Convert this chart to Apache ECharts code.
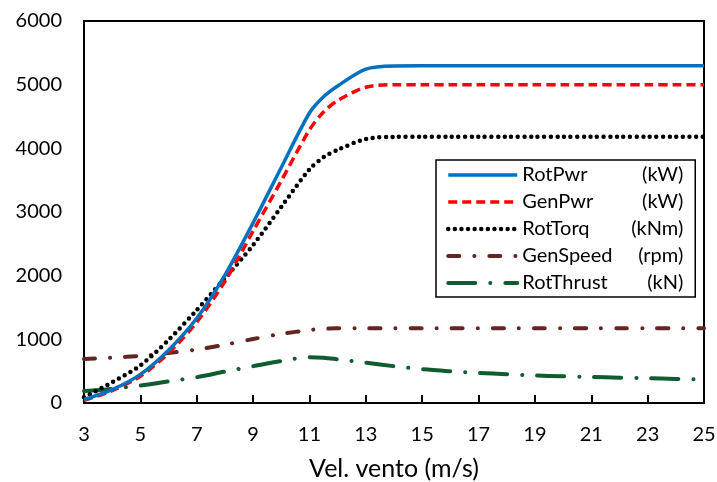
<!DOCTYPE html>
<html>
<head>
<meta charset="utf-8">
<script src="https://cdn.jsdelivr.net/npm/echarts@6/dist/echarts.min.js"></script>
<style>
html,body{margin:0;padding:0;background:#fff;}
#chart{width:717px;height:482px;}
</style>
</head>
<body>
<div id="chart"></div>
<script>
// Wind speed (m/s)
const wind = [3,4,5,6,7,8,9,10,11,11.5,12,13,14,15,16,17,18,19,20,21,22,23,24,25];
const seriesNames = ['RotPwr','GenPwr','RotTorq','GenSpeed','RotThrust'];
const seriesUnits = ['(kW)','(kW)','(kNm)','(rpm)','(kN)'];
const rotPwr    = [55,210,450,830,1330,2010,2830,3700,4555,4810,4980,5245,5295,5297,5297,5297,5297,5297,5297,5297,5297,5297,5297,5297];
const genPwr    = [40,195,420,785,1270,1910,2700,3490,4290,4570,4750,4960,5000,5000,5000,5000,5000,5000,5000,5000,5000,5000,5000,5000];
const rotTorq   = [90,325,590,990,1460,1960,2480,3080,3670,3860,3975,4145,4180,4180,4180,4180,4180,4180,4180,4180,4180,4180,4180,4180];
const genSpeed  = [691,712,740,785,840,915,1005,1085,1146,1165,1173,1174,1174,1174,1174,1174,1174,1174,1174,1174,1174,1174,1174,1174];
const rotThrust = [190,222,275,340,405,494,578,660,720,712,687,633,578,530,498,472,452,432,420,408,398,389,378,370];
const xTicks = {min:3, max:25, interval:2};
const yTicks = {min:0, max:6000, interval:1000};

const FONT = 'Lato';
const pair = arr => wind.map((w,i)=>[w, arr[i]]);
const styles = [
  {color:'#0070C0', width:3.5, type:'solid', cap:'butt'},
  {color:'#FF0000', width:3.5, type:[9,5], cap:'butt'},
  {color:'#000000', width:4.5, type:[0,6.6], cap:'round'},
  {color:'#632523', width:4, type:[11,15,0.1,15], cap:'round'},
  {color:'#0E5C2F', width:4, type:[27,15,0.1,15], cap:'round'}
];
const datas = [rotPwr, genPwr, rotTorq, genSpeed, rotThrust];

const chart = echarts.init(document.getElementById('chart'), null, {renderer:'canvas'});
chart.setOption({
  animation:false,
  backgroundColor:'#fff',
  grid:{left:84, right:13, top:21, bottom:79, show:true, borderColor:'#000', borderWidth:2,
        backgroundColor:'transparent', containLabel:false, outerBoundsMode:'none'},
  xAxis:{
    type:'value', min:xTicks.min, max:xTicks.max, interval:xTicks.interval,
    name:'Vel. vento (m/s)', nameLocation:'middle', nameGap:53,
    nameTextStyle:{fontFamily:FONT, fontSize:25, color:'#000'},
    axisLine:{show:true, lineStyle:{color:'#000', width:2}},
    axisTick:{show:true, inside:true, length:8, lineStyle:{color:'#000', width:2}},
    axisLabel:{fontFamily:FONT, fontSize:20, color:'#000', margin:22},
    splitLine:{show:false}
  },
  yAxis:{
    type:'value', min:yTicks.min, max:yTicks.max, interval:yTicks.interval,
    axisLine:{show:true, lineStyle:{color:'#000', width:2}},
    axisTick:{show:false},
    axisLabel:{fontFamily:FONT, fontSize:20, color:'#000', margin:22, formatter: v => String(v)},
    splitLine:{show:false}
  },
  legend:{
    orient:'vertical', left:436, top:160,
    padding:[4,12,3,10],
    itemWidth:69, itemHeight:14, itemGap:5,
    backgroundColor:'#fff', borderColor:'#000', borderWidth:1.5, borderRadius:0,
    itemStyle:{opacity:0},
    data: seriesNames.map((name,i)=>({
      name,
      itemStyle:{opacity:0},
      lineStyle:{color:styles[i].color, width:styles[i].width, type:styles[i].type, cap:styles[i].cap, opacity:1}
    })),
    formatter: name => '{n|' + name + '}{u|' + seriesUnits[seriesNames.indexOf(name)] + '}',
    textStyle:{
      fontFamily:FONT, fontSize:20, color:'#000', lineHeight:22,
      rich:{
        n:{fontFamily:FONT, fontSize:20, color:'#000', width:100, lineHeight:22},
        u:{fontFamily:FONT, fontSize:20, color:'#000', width:61, align:'right', lineHeight:22}
      }
    }
  },
  series: seriesNames.map((name,i)=>({
    name, type:'line', data:pair(datas[i]),
    smooth:0.3, symbol:'none',
    z: 10 - i,
    lineStyle:{color:styles[i].color, width:styles[i].width, type:styles[i].type, cap:styles[i].cap},
    itemStyle:{color:styles[i].color}
  }))
});
</script>
</body>
</html>
